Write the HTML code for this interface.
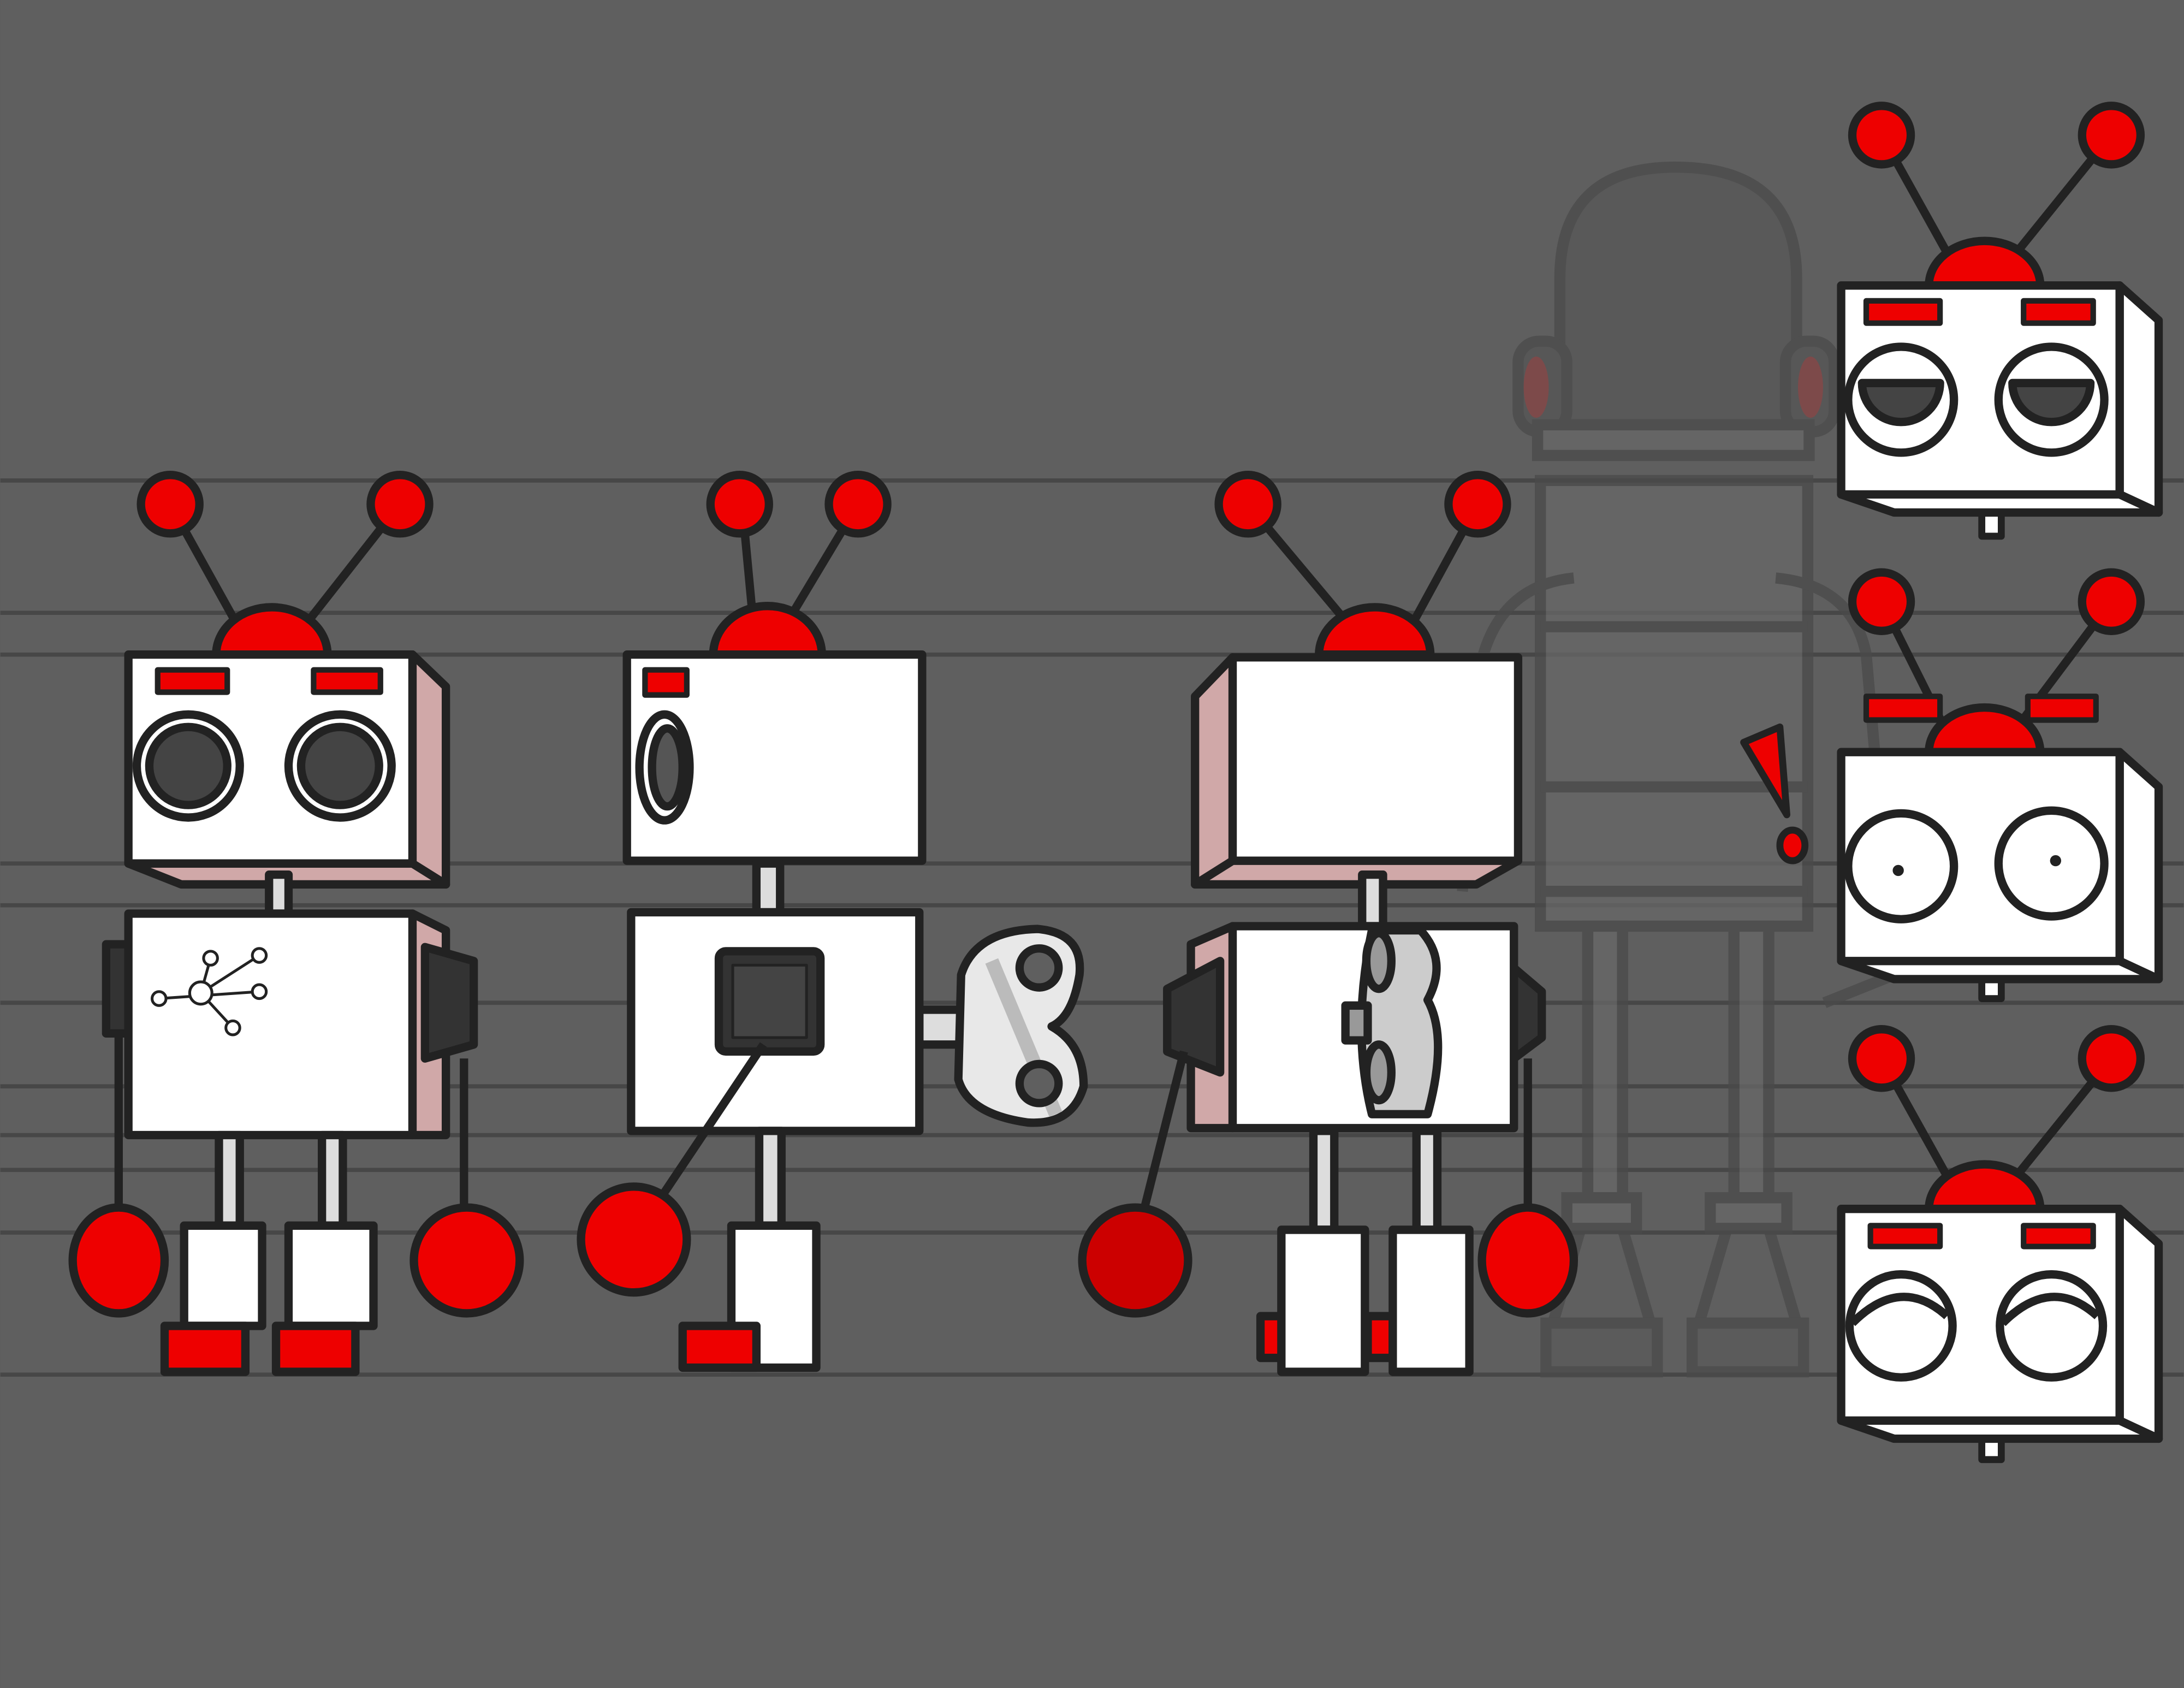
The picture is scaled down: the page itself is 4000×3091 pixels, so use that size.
<!DOCTYPE html>
<html><head><style>html,body{margin:0;padding:0;background:#5f5f5f}svg{display:block}</style></head>
<body>
<svg width="4000" height="3091" viewBox="0 0 1568 1212" xmlns="http://www.w3.org/2000/svg">
<rect width="1568" height="1212" fill="#5f5f5f"/>
<g stroke="#474747" stroke-width="3">
<line x1="0" y1="345" x2="1568" y2="345"/><line x1="0" y1="440" x2="1568" y2="440"/><line x1="0" y1="470" x2="1568" y2="470"/>
<line x1="0" y1="620" x2="1568" y2="620"/><line x1="0" y1="650" x2="1568" y2="650"/><line x1="0" y1="720" x2="1568" y2="720"/>
<line x1="0" y1="780" x2="1568" y2="780"/><line x1="0" y1="815" x2="1568" y2="815"/><line x1="0" y1="840" x2="1568" y2="840"/>
<line x1="0" y1="885" x2="1568" y2="885"/><line x1="0" y1="987" x2="1568" y2="987"/>
</g>
<!-- ghost robot -->
<g opacity="0.75" stroke="#4a4a4a" stroke-width="8" fill="#686868">
<path d="M1120 305 L1120 200 Q1120 120 1203 120 Q1290 120 1290 200 L1290 305 Z" fill="#575757"/>
<rect x="1090" y="245" width="35" height="65" rx="15" fill="#555"/>
<rect x="1282" y="245" width="35" height="65" rx="15" fill="#555"/>
<ellipse cx="1103" cy="278" rx="9" ry="22" fill="#844" stroke="none"/>
<ellipse cx="1300" cy="278" rx="9" ry="22" fill="#844" stroke="none"/>
<rect x="1104" y="305" width="195" height="22"/>
<rect x="1106" y="345" width="192" height="320"/>
<line x1="1106" y1="450" x2="1298" y2="450"/><line x1="1106" y1="565" x2="1298" y2="565"/><line x1="1106" y1="640" x2="1298" y2="640"/>
<rect x="1140" y="665" width="25" height="195"/><rect x="1245" y="665" width="25" height="195"/>
<rect x="1125" y="860" width="50" height="22"/><rect x="1228" y="860" width="55" height="22"/>
<path d="M1135 882 L1115 950 L1185 950 L1165 882 Z" fill="#5f5f5f"/><path d="M1240 882 L1220 950 L1290 950 L1270 882 Z" fill="#5f5f5f"/>
<rect x="1110" y="950" width="80" height="35" fill="#5a5a5a"/><rect x="1215" y="950" width="80" height="35" fill="#5a5a5a"/>
<path d="M1130 415 Q1080 420 1065 470 L1050 640" fill="none"/>
<path d="M1275 415 Q1330 420 1340 470 L1360 700 L1310 720" fill="none"/>
</g>
<path d="M1252 533 L1278 522 L1283 585 Z" fill="#e00" stroke="#222" stroke-width="5" stroke-linejoin="round"/>
<ellipse cx="1287" cy="607" rx="9" ry="11" fill="#e00" stroke="#222" stroke-width="5"/>

<g stroke="#222" stroke-width="6" stroke-linejoin="round">
<!-- Robot 1 -->
<line x1="122" y1="362" x2="172" y2="452"/><line x1="287" y1="362" x2="218" y2="450"/>
<circle cx="122" cy="362" r="21" fill="#e00"/><circle cx="287" cy="362" r="21" fill="#e00"/>
<path d="M155 470 A40 34 0 0 1 235 470 Z" fill="#e00"/>
<polygon points="296,470 320,493 320,635 296,620" fill="#d0a8a8"/>
<polygon points="92,620 130,635 320,635 296,620" fill="#d0a8a8"/>
<rect x="92" y="470" width="204" height="150" fill="#fff"/>
<rect x="113" y="481" width="50" height="16" fill="#e00" stroke-width="4"/>
<rect x="225" y="481" width="48" height="16" fill="#e00" stroke-width="4"/>
<circle cx="135" cy="550" r="37" fill="#fff"/><circle cx="135" cy="550" r="28" fill="#444"/>
<circle cx="244" cy="550" r="37" fill="#fff"/><circle cx="244" cy="550" r="28" fill="#444"/>
<rect x="193" y="628" width="14" height="28" fill="#ddd"/>
<rect x="76" y="678" width="16" height="64" fill="#333"/>
<polygon points="296,656 320,668 320,815 296,815" fill="#d0a8a8"/>
<rect x="92" y="656" width="204" height="159" fill="#fff"/>
<polygon points="305,680 340,690 340,750 305,760" fill="#333"/>
<line x1="85" y1="742" x2="85" y2="870"/><line x1="333" y1="760" x2="333" y2="870"/>
<ellipse cx="85" cy="905" rx="33" ry="38" fill="#e00"/><circle cx="335" cy="905" r="38" fill="#e00"/>
<rect x="157" y="815" width="15" height="65" fill="#ddd"/><rect x="231" y="815" width="15" height="65" fill="#ddd"/>
<rect x="132" y="880" width="56" height="72" fill="#fff"/><rect x="207" y="880" width="61" height="72" fill="#fff"/>
<rect x="118" y="952" width="58" height="33" fill="#e00"/><rect x="198" y="952" width="57" height="33" fill="#e00"/>
</g>
<g stroke="#222" stroke-width="2" fill="#fff">
<line x1="114" y1="717" x2="186" y2="712"/><line x1="144" y1="713" x2="151" y2="688"/><line x1="144" y1="713" x2="186" y2="686"/><line x1="144" y1="713" x2="167" y2="738"/>
<circle cx="144" cy="713" r="8"/><circle cx="114" cy="717" r="5"/><circle cx="151" cy="688" r="5"/><circle cx="186" cy="686" r="5"/><circle cx="186" cy="712" r="5"/><circle cx="167" cy="738" r="5"/>
</g>

<g stroke="#222" stroke-width="6" stroke-linejoin="round">
<!-- Robot 2 -->
<line x1="533" y1="365" x2="541" y2="450"/><line x1="616" y1="362" x2="562" y2="452"/>
<circle cx="531" cy="362" r="21" fill="#e00"/><circle cx="616" cy="362" r="21" fill="#e00"/>
<path d="M512 470 A38 34 0 0 1 590 470 Z" fill="#e00"/>
<rect x="450" y="470" width="212" height="148" fill="#fff"/>
<rect x="463" y="481" width="30" height="18" fill="#e00" stroke-width="4"/>
<ellipse cx="477" cy="551" rx="18" ry="38" fill="#fff"/><ellipse cx="479" cy="551" rx="11" ry="28" fill="#555"/>
<rect x="543" y="620" width="17" height="35" fill="#ddd"/>
<rect x="660" y="725" width="40" height="25" fill="#ddd"/>
<path d="M690 700 Q700 668 745 667 Q778 670 775 700 Q770 730 755 737 Q778 750 778 780 Q770 808 738 806 Q695 800 688 775 Z" fill="#e8e8e8"/>
<path d="M712 690 L758 800" stroke="#bbb" stroke-width="10"/>
<circle cx="746" cy="695" r="14" fill="#5f5f5f"/><circle cx="746" cy="778" r="14" fill="#5f5f5f"/>
<rect x="453" y="655" width="207" height="157" fill="#fff"/>
<rect x="516" y="683" width="73" height="72" rx="5" fill="#333"/><rect x="526" y="693" width="53" height="52" fill="#444" stroke-width="2"/>
<line x1="548" y1="750" x2="473" y2="862"/>
<circle cx="455" cy="890" r="38" fill="#e00"/>
<rect x="545" y="812" width="16" height="68" fill="#ddd"/>
<rect x="525" y="880" width="61" height="102" fill="#fff"/>
<rect x="490" y="952" width="53" height="30" fill="#e00"/>

<!-- Robot 3 -->
<line x1="896" y1="362" x2="968" y2="448"/><line x1="1061" y1="362" x2="1013" y2="450"/>
<circle cx="896" cy="362" r="21" fill="#e00"/><circle cx="1061" cy="362" r="21" fill="#e00"/>
<path d="M947 470 A40 34 0 0 1 1027 470 Z" fill="#e00"/>
<polygon points="885,472 858,500 858,635 885,618" fill="#d0a8a8"/>
<polygon points="858,635 885,618 1090,618 1060,635" fill="#d0a8a8"/>
<rect x="885" y="472" width="205" height="146" fill="#fff"/>
<rect x="978" y="628" width="15" height="37" fill="#ddd"/>
<polygon points="885,665 855,678 855,810 885,810" fill="#d0a8a8"/>
<polygon points="1087,695 1107,712 1107,745 1087,760" fill="#333"/>
<rect x="885" y="665" width="202" height="145" fill="#fff"/>
<polygon points="876,690 838,710 838,755 876,770" fill="#333"/>
<path d="M985 668 L1020 668 Q1040 690 1025 718 Q1040 745 1025 800 L985 800 Q970 740 985 668 Z" fill="#ccc"/>
<ellipse cx="990" cy="690" rx="9" ry="20" fill="#999"/><ellipse cx="990" cy="770" rx="9" ry="20" fill="#999"/>
<rect x="966" y="722" width="16" height="25" fill="#999"/>
<line x1="850" y1="755" x2="822" y2="866"/><line x1="1097" y1="760" x2="1097" y2="866"/>
<circle cx="815" cy="905" r="38" fill="#c00"/><ellipse cx="1097" cy="905" rx="33" ry="38" fill="#e00"/>
<rect x="943" y="812" width="15" height="71" fill="#ddd"/><rect x="1017" y="812" width="15" height="71" fill="#ddd"/>
<rect x="905" y="945" width="18" height="30" fill="#e00"/><rect x="982" y="945" width="18" height="30" fill="#e00"/>
<rect x="920" y="883" width="60" height="102" fill="#fff"/><rect x="1000" y="883" width="55" height="102" fill="#fff"/>

<!-- Right head 1 -->
<line x1="1351" y1="97" x2="1400" y2="185"/><line x1="1516" y1="97" x2="1445" y2="185"/>
<circle cx="1351" cy="97" r="21" fill="#e00"/><circle cx="1516" cy="97" r="21" fill="#e00"/>
<path d="M1385 205 A40 32 0 0 1 1465 205 Z" fill="#e00"/>
<rect x="1423" y="362" width="14" height="23" fill="#fff" stroke-width="5"/>
<polygon points="1522,205 1550,230 1550,368 1522,355" fill="#fff"/>
<polygon points="1322,355 1360,368 1550,368 1522,355" fill="#fff"/>
<rect x="1322" y="205" width="200" height="150" fill="#fff"/>
<rect x="1340" y="216" width="53" height="16" fill="#e00" stroke-width="4"/><rect x="1453" y="216" width="50" height="16" fill="#e00" stroke-width="4"/>
<circle cx="1365" cy="287" r="38" fill="#fff"/><path d="M1337 275 L1393 275 A28 28 0 0 1 1337 275 Z" fill="#444"/>
<circle cx="1473" cy="287" r="38" fill="#fff"/><path d="M1445 275 L1501 275 A28 28 0 0 1 1445 275 Z" fill="#444"/>

<!-- Right head 2 -->
<line x1="1351" y1="432" x2="1395" y2="520"/><line x1="1516" y1="432" x2="1450" y2="520"/>
<circle cx="1351" cy="432" r="21" fill="#e00"/><circle cx="1516" cy="432" r="21" fill="#e00"/>
<path d="M1385 540 A40 32 0 0 1 1465 540 Z" fill="#e00"/>
<rect x="1340" y="500" width="53" height="17" fill="#e00" stroke-width="4"/><rect x="1456" y="500" width="49" height="17" fill="#e00" stroke-width="4"/>
<rect x="1423" y="697" width="14" height="20" fill="#fff" stroke-width="5"/>
<polygon points="1522,540 1550,565 1550,703 1522,690" fill="#fff"/>
<polygon points="1322,690 1360,703 1550,703 1522,690" fill="#fff"/>
<rect x="1322" y="540" width="200" height="150" fill="#fff"/>
<circle cx="1365" cy="622" r="38" fill="#fff"/><circle cx="1363" cy="625" r="4" fill="#222" stroke="none"/>
<circle cx="1473" cy="620" r="38" fill="#fff"/><circle cx="1476" cy="618" r="4" fill="#222" stroke="none"/>

<!-- Right head 3 -->
<line x1="1351" y1="760" x2="1400" y2="848"/><line x1="1516" y1="760" x2="1445" y2="848"/>
<circle cx="1351" cy="760" r="21" fill="#e00"/><circle cx="1516" cy="760" r="21" fill="#e00"/>
<path d="M1385 868 A40 32 0 0 1 1465 868 Z" fill="#e00"/>
<rect x="1423" y="1027" width="14" height="21" fill="#fff" stroke-width="5"/>
<polygon points="1522,868 1550,893 1550,1033 1522,1020" fill="#fff"/>
<polygon points="1322,1020 1360,1033 1550,1033 1522,1020" fill="#fff"/>
<rect x="1322" y="868" width="200" height="152" fill="#fff"/>
<rect x="1343" y="880" width="50" height="15" fill="#e00" stroke-width="4"/><rect x="1453" y="880" width="50" height="15" fill="#e00" stroke-width="4"/>
<circle cx="1365" cy="952" r="37" fill="#fff"/><path d="M1330 950 Q1365 915 1398 945" fill="none"/>
<circle cx="1473" cy="952" r="37" fill="#fff"/><path d="M1438 950 Q1473 915 1506 945" fill="none"/>
</g>
</svg>
</body></html>
